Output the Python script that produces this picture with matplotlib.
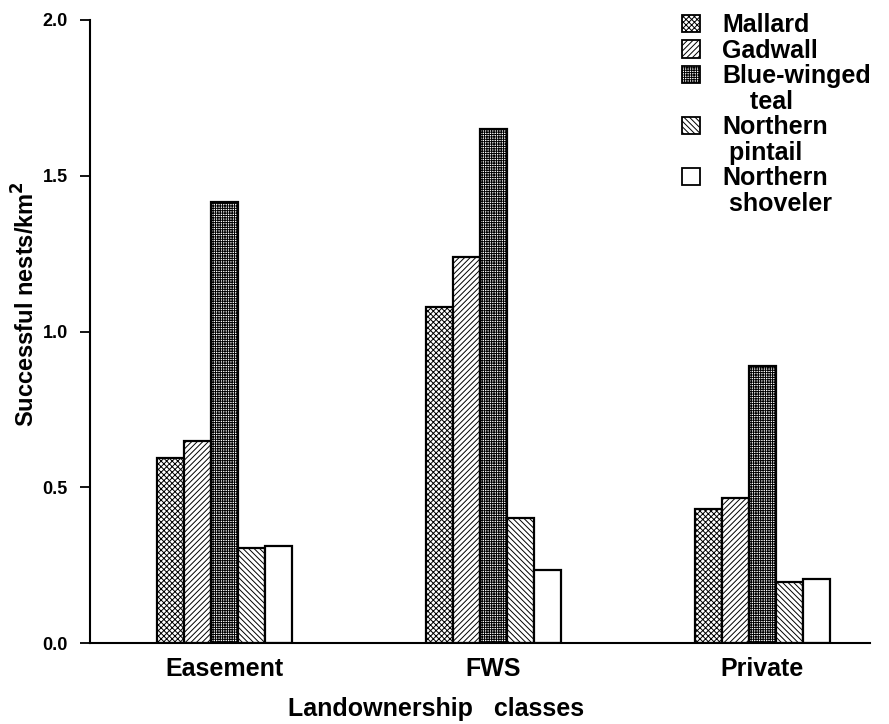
import matplotlib
matplotlib.use("Agg")
import matplotlib.pyplot as plt
import numpy as np
from matplotlib.patches import Patch

categories = ["Easement", "FWS", "Private"]
species = ["Mallard", "Gadwall", "Blue-winged teal", "Northern pintail", "Northern shoveler"]
legend_lines = [["Mallard"], ["Gadwall"], ["Blue-winged", "    teal"],
                ["Northern", " pintail"], ["Northern", " shoveler"]]
mallard = [0.595, 1.08, 0.43]
gadwall = [0.65, 1.24, 0.465]
bwteal = [1.415, 1.65, 0.89]
pintail = [0.305, 0.40, 0.195]
shoveler = [0.31, 0.235, 0.205]
yticks = [0.0, 0.5, 1.0, 1.5, 2.0]

series = [mallard, gadwall, bwteal, pintail, shoveler]
hatches = ["xxxxxx", "//////", "+++++++", "\\\\\\\\\\\\", ""]

plt.rcParams["font.family"] = ["Liberation Sans", "DejaVu Sans"]
plt.rcParams["hatch.linewidth"] = 0.7

fig = plt.figure(figsize=(8.89, 7.24), dpi=100)
ax = fig.add_axes([90/889, 1 - 643/724, 780/889, 623/724])

x = np.arange(len(categories))
w = 0.1
for i, (vals, h) in enumerate(zip(series, hatches)):
    ax.bar(x + (i - 2) * w, vals, width=w, facecolor="white", edgecolor="black",
           hatch=h, linewidth=1.6, label=species[i])

ax.set_xlim(-0.5, 2.4)
ax.set_ylim(0, 2.0)
ax.set_yticks(yticks)
ax.set_yticklabels([f"{v:.1f}" for v in yticks], fontsize=13, fontweight="bold")
ax.set_xticks(x)
ax.set_xticklabels(categories, fontsize=18, fontweight="bold")
ax.tick_params(axis="x", length=0, pad=10)
ax.tick_params(axis="y", length=7, width=1.3, direction="out", pad=9)
for s in ["top", "right"]:
    ax.spines[s].set_visible(False)
ax.spines["left"].set_linewidth(1.5)
ax.spines["bottom"].set_linewidth(1.5)

ax.set_xlabel("Landownership   classes", fontsize=18, fontweight="bold")
ax.xaxis.set_label_coords(0.444, -0.086)
ax.set_ylabel("Successful nests/km$^\\mathbf{2}$", fontsize=17, fontweight="bold")
ax.yaxis.set_label_coords(-0.064, 0.544)

handles, labels = [], []
for h, lines in zip(hatches, legend_lines):
    for j, ln in enumerate(lines):
        p = Patch(facecolor="white", edgecolor="black", hatch=h, linewidth=1.3)
        if j > 0:
            p.set_visible(False)
        handles.append(p)
        labels.append(ln)

leg = ax.legend(handles, labels, loc="upper left", bbox_to_anchor=(582/780, 1.027),
                frameon=False, handlelength=0.7, handleheight=0.7,
                handletextpad=0.9, labelspacing=0.06, borderaxespad=0,
                prop={"weight": "bold", "size": 18})

fig.savefig("out.png", dpi=100)
